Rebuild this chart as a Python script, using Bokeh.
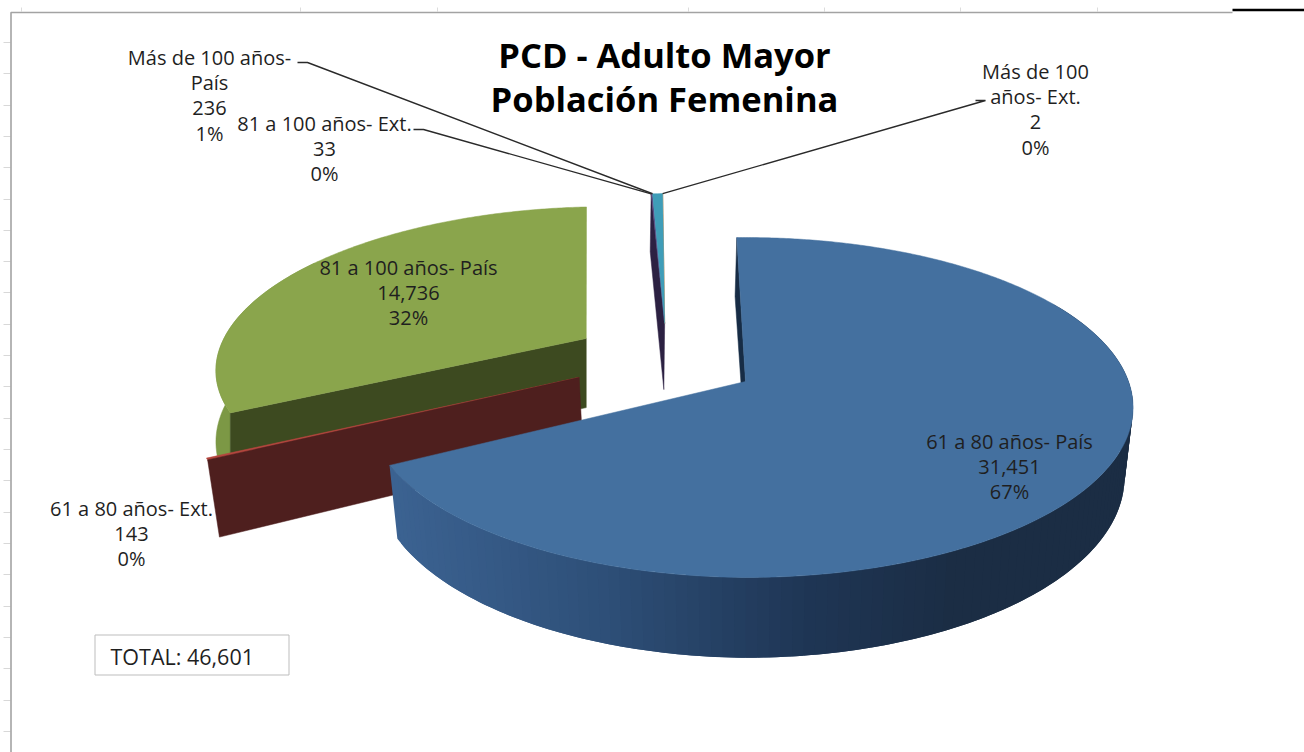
import numpy as np
from bokeh.plotting import figure
from bokeh.models import Range1d
from bokeh.core.properties import value
from bokeh.embed import file_html
from bokeh.resources import INLINE

# ---- data ----
categories = ["61 a 80 años- País", "61 a 80 años- Ext.", "81 a 100 años- País",
              "81 a 100 años- Ext.", "Más de 100 años- País", "Más de 100 años- Ext."]
label_lines = [["61 a 80 años- País"], ["61 a 80 años- Ext."], ["81 a 100 años- País"],
               ["81 a 100 años- Ext."], ["Más de 100 años-", "País"], ["Más de 100", "años- Ext."]]
values = [31451, 143, 14736, 33, 236, 2]
title_lines = ["PCD - Adulto Mayor", "Población Femenina"]

# ---- styling / layout ----
top_colors = ["#44709F", "#B5473F", "#8AA54C", "#5A4780", "#3F9DB8", "#E08A3C"]
cut_colors = ["#172C45", "#4E1F1E", "#3D4A20", "#2C2142", "#2C2142", "#2C2142"]
wall_colors = ["#2C4B73", "#4E1F1E", "#7C9845", "#2C2142", "#2C2142", "#2C2142"]
explode = [(0, 0), (-.436, -.025), (-.433, -.27), (-.223, -.37), (-.223, -.37), (-.223, -.37)]
radius = [1, .99, .985, 1, 1, 1]
nudge = [0, 0, 0, -.7, -.7, -.7]
shrink = [.978, .978, 1.0, 1.01, 1.01, 1.01]
depth = [68, 72, 72, 70, 70, 70]
label_pos = [(1009, 441), (131, 508), (408, 267), (324, 123), (209, 57), (1035, 71)]
START, CX, CY, A, B, K = -1.5, 745, 381, 383, 166, .153
LINE = 25.2

total = sum(values)
sweeps = [v / total * 360 for v in values]
starts = START + np.concatenate([[0], np.cumsum(sweeps)[:-1]])

def proj(u, v):
    u, v = np.asarray(u, float), np.asarray(v, float)
    s = 1 / (1 - K * v)
    return CX + A * u * s, CY + B * v * s, s

def rim(i, th):
    t = np.radians(np.asarray(th, float) + nudge[i])
    r = radius[i]
    if i == 0:  # the left part of the big slice's rim runs slightly inside the ellipse
        r = 1 - .018 * np.clip((np.asarray(th, float) - 180) / 61, 0, 1)
    return proj(explode[i][0] + r * np.sin(t), explode[i][1] - r * np.cos(t))

def down(i, x, y, s, sh):
    return CX + (x - CX) * sh, y + depth[i] * s

def top_face(i):
    th = np.linspace(starts[i], starts[i] + sweeps[i], max(3, int(sweeps[i] * 2)))
    x, y, _ = rim(i, th)
    ax, ay, _ = proj(*explode[i])
    return np.r_[ax, x], np.r_[ay, y]

def cut_face(i, th0, sh=None):
    sh = shrink[i] if sh is None else sh
    x, y, s = rim(i, np.array([th0]))
    ax, ay, sa = proj(*explode[i])
    bx, by = down(i, x, y, s, sh)
    abx, aby = down(i, ax, ay, sa, sh)
    return np.r_[ax, x, bx, abx], np.r_[ay, y, by, aby]

def wall(i, th0, th1, n=50):
    th = np.linspace(th0, th1, n)
    x, y, s = rim(i, th)
    bx, by = down(i, x, y, s, shrink[i])
    return np.r_[x, bx[::-1]], np.r_[y, by[::-1]]

p = figure(width=1304, height=752, x_range=Range1d(0, 1304), y_range=Range1d(752, 0),
           output_backend="svg", toolbar_location=None, min_border=0,
           background_fill_color="white", border_fill_color="white", outline_line_color=None)
p.axis.visible = False
p.xgrid.visible = False
p.ygrid.visible = False

# sheet frame behind the chart
frame = "#A3A3A3"
rows = [42, 73, 105, 136, 167, 199, 230, 261, 292, 324, 355, 386, 418, 449, 480, 512, 543, 574, 606, 637, 668, 700, 731]
cols_top = [21, 300, 437, 688, 824, 960, 1097]
p.segment(3, rows, 10, rows, line_color="#D8D8D8", line_width=1)
p.segment(cols_top, 7, cols_top, 11, line_color="#DCDCDC", line_width=1)
p.line([10.5, 10.5, 1232], [752, 12, 12], line_color=frame, line_width=1.6)
p.line([1232, 1304], [9.5, 9.5], line_color="black", line_width=2.6)

def poly(xy, color):
    p.patch(xy[0], xy[1], fill_color=color, line_color=color, line_width=.5)

# green slice
poly(wall(2, starts[2], starts[2] + 60), wall_colors[2])
poly(cut_face(2, starts[2]), cut_colors[2])
poly(top_face(2), top_colors[2])
# needle slices (the hair-thin last one sits under its neighbour)
poly(cut_face(3, starts[3]), cut_colors[3])
poly(top_face(3), top_colors[3])
poly(top_face(5), top_colors[5])
poly(top_face(4), top_colors[4])
# red slice: the wedge is almost edge-on, only a thin line of its top shows
poly(top_face(1), top_colors[1])
poly(cut_face(1, starts[1] + sweeps[1] * .45), cut_colors[1])
# blue slice: shaded outer wall drawn as overlapping strips
stops_x = [388, 600, 800, 950, 1133]
stops_rgb = np.array([[60, 99, 146], [46, 79, 120], [31, 54, 85], [27, 45, 68], [27, 45, 68]])
edges = np.arange(starts[0] + sweeps[0], 60, -1.5)
xs, ys, cols = [], [], []
for a, b in zip(edges[:-1], edges[1:]):
    wx, wy = wall(0, a, b - 1.5, 4)
    xs.append(list(wx)); ys.append(list(wy))
    c = [int(np.interp(wx.min(), stops_x, stops_rgb[:, k])) for k in range(3)]
    cols.append("#%02X%02X%02X" % tuple(c))
p.patches(xs, ys, fill_color=cols, line_color=None)
poly(cut_face(0, starts[0], 1.2), cut_colors[0])
poly(top_face(0), top_colors[0])

# leader lines, attached to the rims of the small slices
def leader(i, th, kx, ky, ex):
    x, y, _ = rim(i, np.array([th]))
    p.line([ex, kx, float(x[0])], [ky, ky, float(y[0])], line_color="#2A2A2A", line_width=1.4)

leader(4, starts[4], 307, 62, 297)
leader(3, starts[3], 423, 129, 413)
leader(5, starts[5], 985, 100, 975)

# data labels
tx, ty, tt = [], [], []
for i, lines in enumerate(label_lines):
    pct = round(values[i] / total * 100)
    x, y = label_pos[i]
    for j, t in enumerate(lines + [f"{values[i]:,}", f"{pct}%"]):
        tx.append(x); ty.append(y + j * LINE); tt.append(t)
p.text(x=tx, y=ty, text=tt, text_font=value("Open Sans"), text_font_size="20px", text_color="#1F1F1F",
       text_align="center", text_baseline="middle")

# title
p.text(x=[664, 664], y=[54, 98], text=title_lines, text_font=value("Open Sans"), text_font_size="34.5px",
       text_font_style="bold", text_color="black", text_align="center", text_baseline="middle")

# total box
p.quad(left=[94.5], right=[288.5], top=[634.5], bottom=[674.5], fill_color="white", line_color="#BDBDBD", line_width=1)
p.text(x=[110], y=[656], text=[f"TOTAL: {total:,}"], text_font=value("Open Sans"), text_font_size="21.5px",
       text_color="#1F1F1F", text_align="left", text_baseline="middle")

open("out.html", "w").write(file_html(p, INLINE))
